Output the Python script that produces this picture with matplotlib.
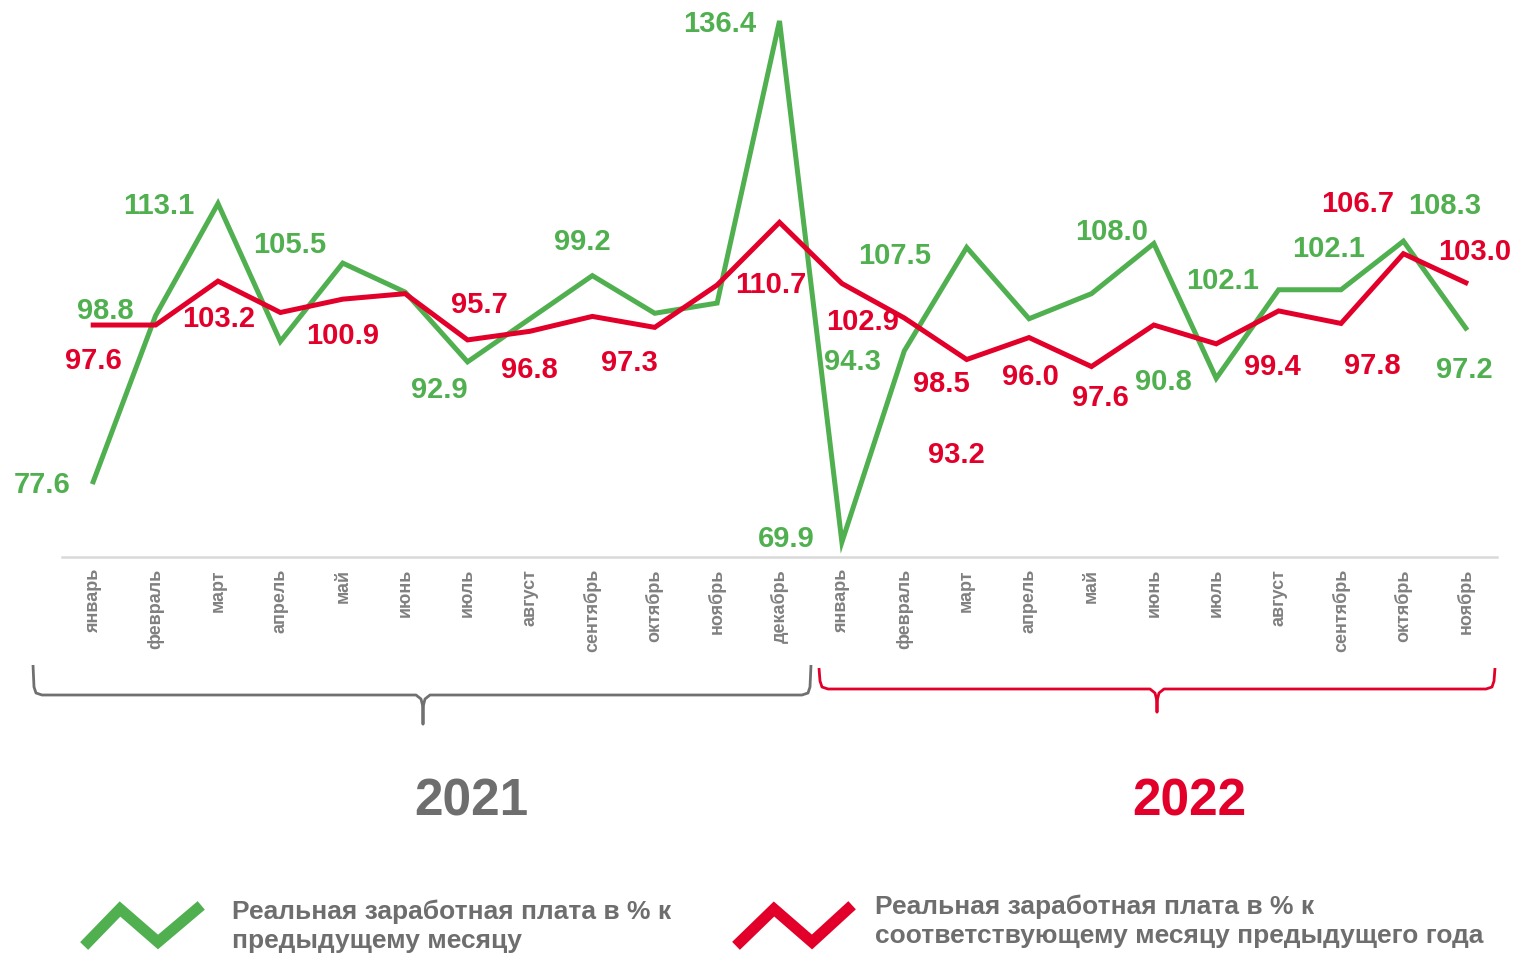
import numpy as np
import matplotlib
matplotlib.use("Agg")
import matplotlib.pyplot as plt

plt.rcParams['font.family'] = ['Liberation Sans', 'DejaVu Sans']

# --- data ---
month_names = ["январь", "февраль", "март", "апрель", "май", "июнь", "июль",
               "август", "сентябрь", "октябрь", "ноябрь", "декабрь"]
months = month_names + month_names[:11]

mom = [77.6, 98.8, 113.1, 95.5, 105.5, 101.8, 92.9, 98.4, 103.9, 99.1, 100.4, 136.4,
       69.9, 94.3, 107.5, 98.4, 101.6, 108.0, 90.8, 102.1, 102.1, 108.3, 97.2]
# real wage, % to same month of previous year
yoy = [97.6, 97.6, 103.2, 99.2, 100.9, 101.6, 95.7, 96.8, 98.7, 97.3, 102.7, 110.7,
       102.9, 98.5, 93.2, 96.0, 92.3, 97.6, 95.2, 99.4, 97.8, 106.7, 103.0]

# data labels as printed on the chart (None = no label)
mom_labels = ["77.6", "98.8", "113.1", None, "105.5", None, "92.9", None, "99.2", None, None, "136.4",
              "69.9", "94.3", "107.5", None, None, "108.0", "90.8", "102.1", "102.1", "108.3", "97.2"]
yoy_labels = ["97.6", None, "103.2", None, "100.9", None, "95.7", "96.8", None, "97.3", None, "110.7",
              "102.9", "98.5", "93.2", "96.0", "97.6", None, None, "99.4", "97.8", "106.7", "103.0"]

years = ["2021", "2022"]
legend_mom = "Реальная заработная плата в % к\nпредыдущему месяцу"
legend_yoy = "Реальная заработная плата в % к\nсоответствующему месяцу предыдущего года"

# label offsets in pixels (dx, dy with y going down on screen)
mom_off = {0: (-51, 2), 1: (-50, -6), 2: (-59, 1), 4: (-53, -19), 6: (-28, 27), 8: (-10, -35),
           11: (-60, 2), 12: (-56, -4), 13: (-52, 10), 14: (-72, 8), 17: (-42, -13),
           18: (-53, 3), 19: (-56, -10), 20: (-12, -42), 21: (41, -36), 22: (-1, 41)}
yoy_off = {0: (0, 35), 2: (1, 37), 4: (0, 36), 6: (12, -36), 7: (-1, 38), 9: (-25, 35),
           11: (-9, 62), 12: (21, 38), 13: (37, 65), 14: (-10, 94), 15: (1, 38), 16: (9, 30),
           19: (-6, 55), 20: (31, 42), 21: (-46, -51), 22: (9, -32)}

GREEN = "#50B050"
RED = "#E2002A"
GRAY = "#6e6e6e"

W, H = 1516, 954
fig = plt.figure(figsize=(W / 100, H / 100), dpi=100)
ax = fig.add_axes([62 / W, 1 - 558 / H, (1497 - 62) / W, 558 / H])

x = np.arange(len(months))
ax.plot(x, mom, color=GREEN, lw=3.6, solid_joinstyle="miter", zorder=3)
ax.plot(x, yoy, color=RED, lw=3.6, solid_joinstyle="miter", zorder=4)

for labels, vals, offs, col in [(mom_labels, mom, mom_off, GREEN), (yoy_labels, yoy, yoy_off, RED)]:
    for i, lab in enumerate(labels):
        if lab is None:
            continue
        dx, dy = offs[i]
        ax.annotate(lab, (x[i], vals[i]), xytext=(dx, -dy), textcoords="offset pixels",
                    ha="center", va="center", fontsize=21, fontweight="bold", color=col,
                    annotation_clip=False, zorder=5)

ax.set_xlim(-0.5, len(months) - 0.5)
ax.set_ylim(68, 139.2)
ax.set_xticks(x)
ax.set_xticklabels(months, rotation=90, fontsize=13, fontweight="bold", color="#808080",
                   va="top", ha="center")
ax.tick_params(axis="x", length=0, pad=8)
ax.set_yticks([])
for s in ["top", "right", "left"]:
    ax.spines[s].set_visible(False)
ax.spines["bottom"].set_color("#d9d9d9")
ax.spines["bottom"].set_linewidth(1.8)

# --- overlay for brackets, years and legend (pixel coordinates) ---
ov = fig.add_axes([0, 0, 1, 1], zorder=-1)
ov.set_xlim(0, W)
ov.set_ylim(H, 0)
ov.axis("off")


def brace(x0, x1, xm, ytop, ybar, ytip, color):
    xs = [x0, x0 + 1, x0 + 3, x0 + 9, xm - 7, xm - 2, xm, xm, xm, xm + 2, xm + 7, x1 - 9, x1 - 3, x1 - 1, x1]
    ys = [ytop, ybar - 8, ybar - 2, ybar, ybar, ybar + 4, ybar + 12, ytip, ybar + 12, ybar + 4, ybar,
          ybar, ybar - 2, ybar - 8, ytop]
    ov.plot(xs, ys, color=color, lw=2.0, solid_joinstyle="round", solid_capstyle="butt")


brace(33, 811, 423, 666, 696, 725, "#707070")
brace(819, 1495, 1157, 669, 690, 713, RED)

ov.text(471, 802, years[0], fontsize=37, fontweight="bold", color="#6e6e6e", ha="center", va="center")
ov.text(1189, 802, years[1], fontsize=37, fontweight="bold", color=RED, ha="center", va="center")

# legend icons
ov.plot([88, 120, 158, 197], [943, 910, 943, 910], color=GREEN, lw=8, solid_joinstyle="miter")
ov.plot([740, 774, 812, 848], [943, 910, 943, 910], color=RED, lw=8, solid_joinstyle="miter")
ov.text(232, 926, legend_mom, fontsize=19, fontweight="bold", color=GRAY, ha="left", va="center",
        linespacing=1.28)
ov.text(875, 921, legend_yoy, fontsize=19, fontweight="bold", color=GRAY, ha="left", va="center",
        linespacing=1.28)

fig.savefig("out.png", dpi=100)
